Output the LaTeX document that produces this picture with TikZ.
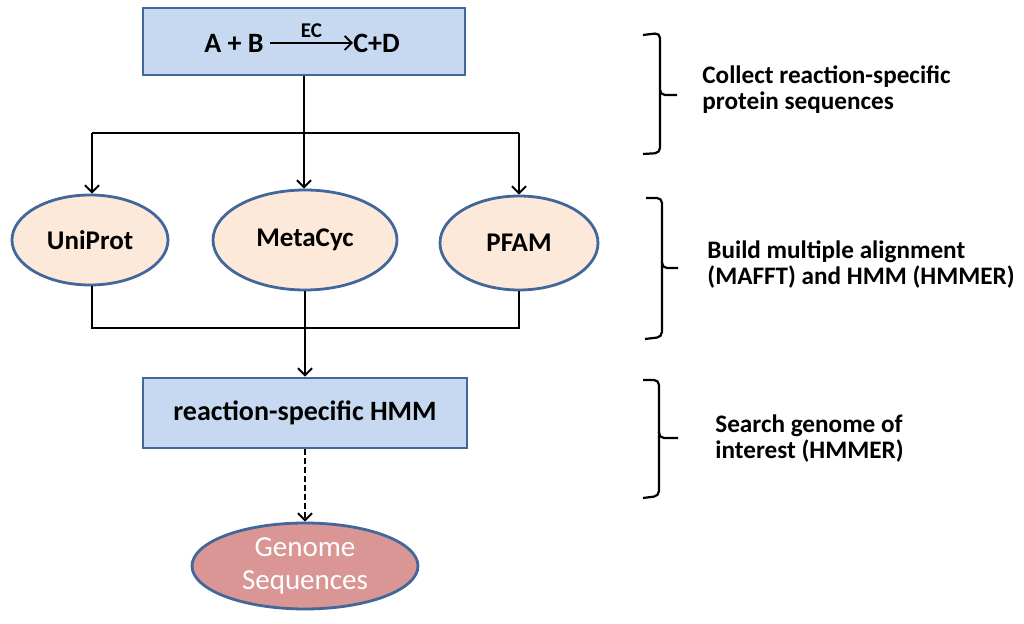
\documentclass[tikz,border=0pt]{standalone}
\usepackage{fontspec}
\setmainfont{Carlito}
\usetikzlibrary{arrows.meta,shapes.geometric}
\definecolor{boxfill}{HTML}{C6D9F1}
\definecolor{boxline}{HTML}{41679B}
\definecolor{ellfill}{HTML}{FDE9D9}
\definecolor{genfill}{HTML}{D99694}
\tikzset{
  box/.style={draw=boxline, line width=1.4pt, fill=boxfill, minimum width=162pt, minimum height=34pt, inner sep=0pt, font=\bfseries\fontsize{14}{16}\selectfont},
  db/.style={ellipse, draw=boxline, line width=1.4pt, fill=ellfill, inner sep=0pt, font=\bfseries\fontsize{13.5}{16}\selectfont},
  gen/.style={ellipse, draw=boxline, line width=1.4pt, fill=genfill, inner sep=0pt, text=white, align=center, font=\fontsize{14.5}{16.5}\selectfont},
  conn/.style={line width=1.1pt, draw=black},
  arr/.style={conn, -{Straight Barb[length=3.5pt,width=7pt,line width=1pt]}},
  brace/.style={line width=1.1pt, rounded corners=2.5pt},
  note/.style={anchor=west, align=left, inner sep=0pt, font=\bfseries\fontsize{12.6}{13}\selectfont},
  eq/.style={inner sep=0pt, font=\bfseries\fontsize{14}{16}\selectfont}
}
\begin{document}
\begin{tikzpicture}[x=0.5pt,y=-0.5pt]
\useasboundingbox (0,0) rectangle (1024,624);
% top box
\node[box, minimum width=161pt, minimum height=33.5pt] (top) at (304,41.5) {};
\node[eq, anchor=east] (ab) at (264,43) {A + B};
\node[eq, anchor=west] (cd) at (353,43) {C+D};
\draw[conn, -{Straight Barb[length=3.5pt,width=7pt,line width=0.9pt]}, line width=0.9pt] (ab.east) ++(6,0) coordinate (ea) -- (cd.west)
  node[midway, above=1pt, font=\bfseries\fontsize{10.5}{11}\selectfont, inner sep=1pt] (ec) {EC};
% databases
\node[db, minimum width=78pt, minimum height=45pt] (uni) at (90,240) {UniProt};
\node[db, minimum width=92pt, minimum height=50pt] (meta) at (305,240) {MetaCyc};
\node[db, minimum width=79pt, minimum height=47pt] (pfam) at (519,243) {PFAM};
% HMM box
\node[box, minimum width=162pt, minimum height=35pt] (hmm) at (305,413) {reaction-specific HMM};
% genome
\node[gen, minimum width=113pt, minimum height=43pt] (gen) at (305,566) {Genome\\Sequences};
% connectors top
\coordinate (split) at (304,133);
\coordinate (sl) at (92,133);
\coordinate (sr) at (519,133);
\draw[conn] (top.south) -- (split);
\draw[conn] (sl) -- (sr);
\draw[arr] (sl) -- (sl |- uni.north);
\draw[arr] (split) -- (split |- meta.north);
\draw[arr] (sr) -- (sr |- pfam.north);
% merge
\coordinate (ml) at (92,328);
\coordinate (mr) at (519,328);
\draw[conn] (uni.south -| ml) -- (ml) -- (mr) -- (pfam.south -| mr);
\draw[arr] (meta.south) -- (hmm.north);
\draw[arr, dash pattern=on 3pt off 1.5pt] (hmm.south) -- (gen.north);
% braces
\coordinate (b1) at (677,95);
\coordinate (b2) at (678,268);
\coordinate (b3) at (678,438);
\draw[brace] (643,35) -- (660,33) -- (660,95) -- (b1);
\draw[brace] (660,90) -- (660,153) -- (643,154);
\draw[brace] (646,198) -- (662,198) -- (662,268) -- (b2);
\draw[brace] (662,262) -- (662,337) -- (645,339);
\draw[brace] (643,380) -- (659,380) -- (659,438) -- (b3);
\draw[brace] (659,432) -- (659,496) -- (643,498);
% notes
\node[note] (n1) at (702,90) {Collect reaction-specific\\protein sequences};
\node[note] (n2) at (707,265) {Build multiple alignment\\(MAFFT) and HMM (HMMER)};
\node[note] (n3) at (715,439) {Search genome of\\interest (HMMER)};
\end{tikzpicture}
\end{document}
